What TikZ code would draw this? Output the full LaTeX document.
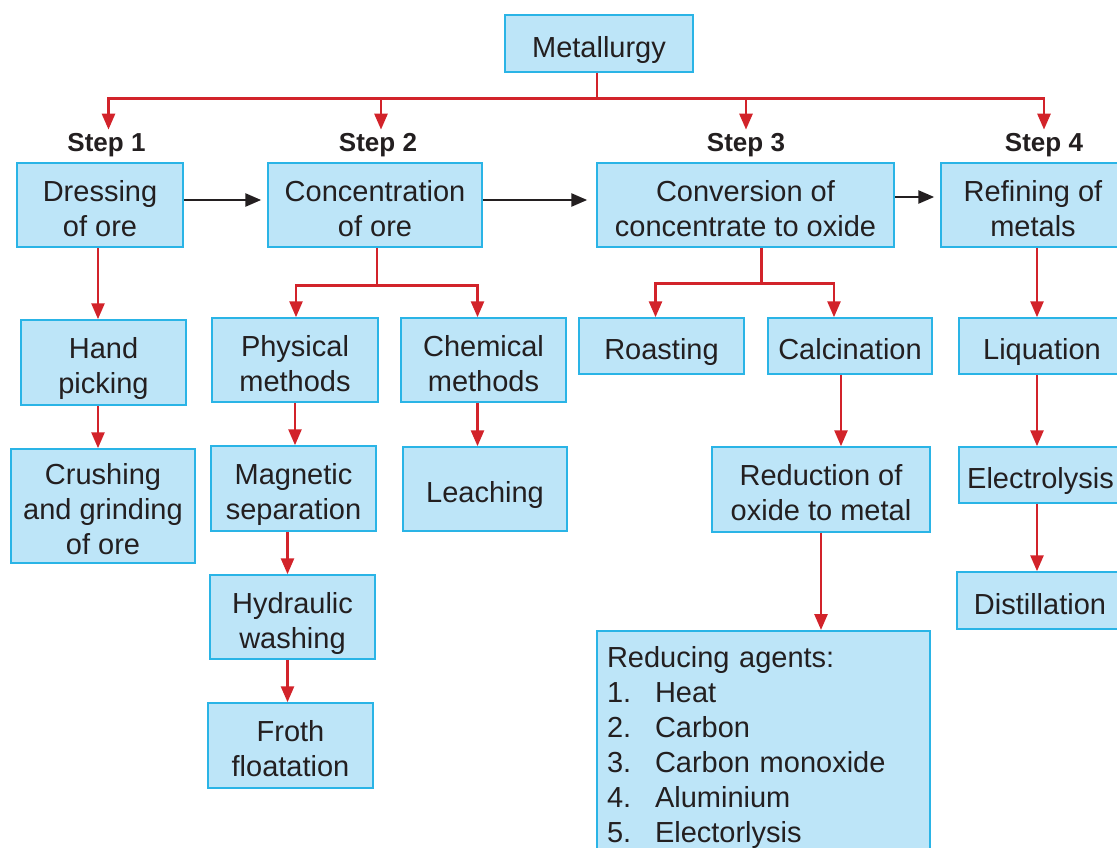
\documentclass[tikz,border=0pt]{standalone}
\usepackage{fontspec}
\setmainfont{Liberation Sans}
\usetikzlibrary{arrows.meta,calc,positioning}
\definecolor{boxfill}{HTML}{BDE5F8}
\definecolor{boxline}{HTML}{2AB4E6}
\definecolor{flowred}{HTML}{D2232A}
\definecolor{ink}{HTML}{231F20}
\tikzset{
    box/.style={draw=boxline, fill=boxfill, line width=1.5pt, align=center, inner sep=0pt, text=ink, font=\fontsize{29}{35}\selectfont},
    redarrow/.style={draw=flowred, line width=2.7pt, -{Triangle[length=16pt,width=13pt]}},
    blackarrow/.style={draw=ink, line width=2.7pt, -{Triangle[length=16pt,width=13pt]}},
    steplabel/.style={text=ink, inner xsep=0pt, inner ysep=4pt, anchor=base, font=\bfseries\fontsize{26}{30}\selectfont},
}
\newcommand{\topstrut}{\rule{0pt}{34.5pt}}
\newcommand{\botstrut}{\rule[-7pt]{0pt}{7pt}}

\begin{document}
\begin{tikzpicture}[x=1pt, y=-1pt]
\useasboundingbox (0,0) rectangle (1117,848);
\clip (0,0) rectangle (1117,848);
% Variables: 1 := centre, 2 := name, 3 := width, 4 := height, 5 := text.
\def\flowbox(#1)#2#3#4#5{
    \node[box, minimum width=#3, minimum height=#4] (#2) at (#1) {\topstrut#5\botstrut};
}
\def\agent#1{\makebox[48pt][l]{#1}}
\flowbox(599,43.5){metal}{188pt}{57pt}{Metallurgy}
\flowbox(100,205){dress}{166pt}{84pt}{Dressing\\of ore}
\flowbox(375,205){conc}{214pt}{84pt}{Concentration\\of ore}
\flowbox(745.5,205){conv}{297pt}{84pt}{Conversion of\\concentrate to oxide}
\flowbox(1033,205){refine}{184pt}{84pt}{Refining of\\metals}
\flowbox(103.5,362.5){hand}{165pt}{85pt}{Hand\\picking}
\flowbox(103,506){crush}{184pt}{114pt}{Crushing\\and grinding\\of ore}
\flowbox(295,360){phys}{166pt}{84pt}{Physical\\methods}
\flowbox(483.5,360){chem}{165pt}{84pt}{Chemical\\methods}
\flowbox(293.5,488.5){magnet}{165pt}{85pt}{Magnetic\\separation}
\flowbox(485,489){leach}{164pt}{84pt}{Leaching}
\flowbox(292.5,617){hydro}{165pt}{84pt}{Hydraulic\\washing}
\flowbox(290.5,745.5){froth}{165pt}{85pt}{Froth\\floatation}
\flowbox(661.5,346){roast}{165pt}{56pt}{Roasting}
\flowbox(850,346){calcin}{164pt}{56pt}{Calcination}
\flowbox(821,489.5){reduce}{218pt}{85pt}{Reduction of\\oxide to metal}
\flowbox(1042,346){liquate}{166pt}{56pt}{Liquation}
\flowbox(1040.5,475){electro}{163pt}{56pt}{Electrolysis}
\flowbox(1040,600.5){distil}{166pt}{57pt}{Distillation}
\node[box, anchor=north, align=left, text width=313pt, inner xsep=10pt, inner ysep=2pt] (agents) at (763.5,630)
    {\topstrut Reducing agents:\\\agent{1.}Heat\\\agent{2.}Carbon\\\agent{3.}Carbon monoxide\\\agent{4.}Aluminium\\\agent{5.}Electorlysis\botstrut};

\node[steplabel] (step1) at (106.5,152) {Step 1};
\node[steplabel] (step2) at (378,152) {Step 2};
\node[steplabel] (step3) at (746,152) {Step 3};
\node[steplabel] (step4) at (1044,152) {Step 4};

\draw[redarrow] ([xshift=-2pt]metal.south) -- ++(0,26) coordinate (bus) -| ([xshift=2pt]step1.north);
\draw[redarrow] (bus) -| ([xshift=3pt]step2.north);
\draw[redarrow] (bus) -| (step3.north);
\draw[redarrow] (bus) -| (step4.north);

\draw[blackarrow, shorten >=6pt] ([yshift=5pt]dress.east) -- ([yshift=5pt]conc.west);
\draw[blackarrow, shorten >=9pt] ([yshift=5pt]conc.east) -- ([yshift=5pt]conv.west);
\draw[blackarrow, shorten >=6pt] ([yshift=8pt]conv.east) -- ([yshift=8pt]refine.west);

\draw[redarrow] ([xshift=-2pt]dress.south) -- ([xshift=-2pt]dress.south |- hand.north);
\draw[redarrow] ([xshift=-2pt]dress.south |- hand.south) -- ([xshift=-2pt]dress.south |- crush.north);

\draw[redarrow] ([xshift=2pt]conc.south) -- ++(0,38) coordinate (cbus) -| ([xshift=1pt]phys.north);
\draw[redarrow] (cbus) -| ([xshift=-6pt]chem.north);
\draw[redarrow] (phys.south) -- (phys.south |- magnet.north);
\draw[redarrow] ([xshift=-6pt]magnet.south) -- ([xshift=-6pt]magnet.south |- hydro.north);
\draw[redarrow] ([xshift=-6pt]magnet.south |- hydro.south) -- ([xshift=-6pt]magnet.south |- froth.north);
\draw[redarrow] ([xshift=-6pt]chem.south) -- ([xshift=-6pt]chem.south |- leach.north);

\draw[redarrow] ([xshift=16pt]conv.south) -- ++(0,36) coordinate (vbus) -| ([xshift=-6pt]roast.north);
\draw[redarrow] (vbus) -| ([xshift=-16pt]calcin.north);
\draw[redarrow] ([xshift=-9pt]calcin.south) -- ([xshift=-9pt]calcin.south |- reduce.north);
\draw[redarrow] (reduce.south) -- (reduce.south |- agents.north);

\draw[redarrow] ([xshift=4pt]refine.south) -- ([xshift=4pt]refine.south |- liquate.north);
\draw[redarrow] ([xshift=4pt]refine.south |- liquate.south) -- ([xshift=4pt]refine.south |- electro.north);
\draw[redarrow] ([xshift=4pt]refine.south |- electro.south) -- ([xshift=4pt]refine.south |- distil.north);
\end{tikzpicture}
\end{document}
